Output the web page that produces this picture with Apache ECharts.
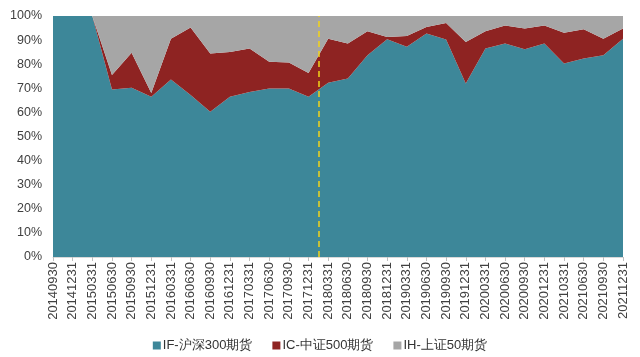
<!DOCTYPE html>
<html>
<head>
<meta charset="utf-8">
<script src="https://cdn.jsdelivr.net/npm/echarts@6/dist/echarts.min.js"></script>
<style>
html,body{margin:0;padding:0;background:#fff;}
#c{width:640px;height:357px;}
</style>
</head>
<body>
<div id="c"></div>
<script>
var categories = ['20140930','20141231','20150331','20150630','20150930','20151231','20160331','20160630','20160930','20161231','20170331','20170630','20170930','20171231','20180331','20180630','20180930','20181231','20190331','20190630','20190930','20191231','20200331','20200630','20200930','20201231','20210331','20210630','20210930','20211231'];
var ifShare = [100,100,100,69.5,70.2,66.5,73.7,67.2,60.3,66.5,68.5,69.9,69.9,66.5,72.3,74.1,83.7,90.4,87.2,92.7,90.2,72.0,86.5,88.6,86.2,88.6,80.3,82.4,83.7,90.6];
var icShare = [0,0,0,6.0,14.5,1.6,16.9,28.0,24.1,18.6,18.0,11.1,10.8,9.9,18.3,14.5,10.0,0.9,4.5,2.7,6.9,17.2,7.2,7.5,8.6,7.5,12.8,12.1,6.9,4.2];
var ihShare = [0,0,0,24.5,15.3,31.9,9.4,4.8,15.6,14.9,13.5,19.0,19.3,23.6,9.4,11.4,6.3,8.7,8.3,4.6,2.9,10.8,6.3,3.9,5.2,3.9,6.9,5.5,9.4,5.2];
var seriesNames = ['IF-沪深300期货','IC-中证500期货','IH-上证50期货'];
var markerPosition = 13.5; // between 20171231 and 20180331
var yTicks = {min: 0, max: 100, interval: 10};

var colors = ['#3D8799','#8E2322','#A6A6A6'];
var chart = echarts.init(document.getElementById('c'), null, {renderer:'canvas'});
function areaSeries(name, data, color){
  return {
    name: name, type: 'line', stack: 'total', data: data,
    symbol: 'none', lineStyle: {width: 0, color: color},
    itemStyle: {color: color},
    areaStyle: {color: color, opacity: 1}
  };
}
chart.setOption({
  animation: false,
  textStyle: {fontFamily: 'Liberation Sans, Arial, sans-serif'},
  grid: {left: 53, right: 17, top: 16, bottom: 100},
  legend: {
    top: 334, left: 'center', itemWidth: 8, itemHeight: 8, itemGap: 20,
    icon: 'rect',
    textStyle: {fontSize: 13, color: '#333', padding:[0,0,0,-3]},
    data: seriesNames
  },
  xAxis: [{
    type: 'category', data: categories, boundaryGap: false,
    axisLine: {lineStyle: {color: '#D9D9D9'}},
    axisTick: {show: true, length: 4, lineStyle: {color: '#BFBFBF'}},
    axisLabel: {rotate: 90, fontSize: 13, color: '#404040', interval: 0, margin: 5}
  }, {
    type: 'value', min: 0, max: categories.length - 1, show: false
  }],
  yAxis: {
    type: 'value', min: yTicks.min, max: yTicks.max, interval: yTicks.interval,
    axisLine: {show: false}, axisTick: {show: false},
    splitLine: {show: false},
    axisLabel: {formatter: '{value}%', fontSize: 12.5, color: '#404040', margin: 11}
  },
  series: [
    areaSeries(seriesNames[0], ifShare, colors[0]),
    areaSeries(seriesNames[1], icShare, colors[1]),
    areaSeries(seriesNames[2], ihShare, colors[2]),
    {
      type: 'line', xAxisIndex: 1, data: [], silent: true,
      markLine: {
        symbol: 'none', silent: true, label: {show: false},
        lineStyle: {color: '#F2D31A', type: [6,4], width: 1.5},
        data: [{xAxis: markerPosition}]
      }
    }
  ]
});
</script>
</body>
</html>
